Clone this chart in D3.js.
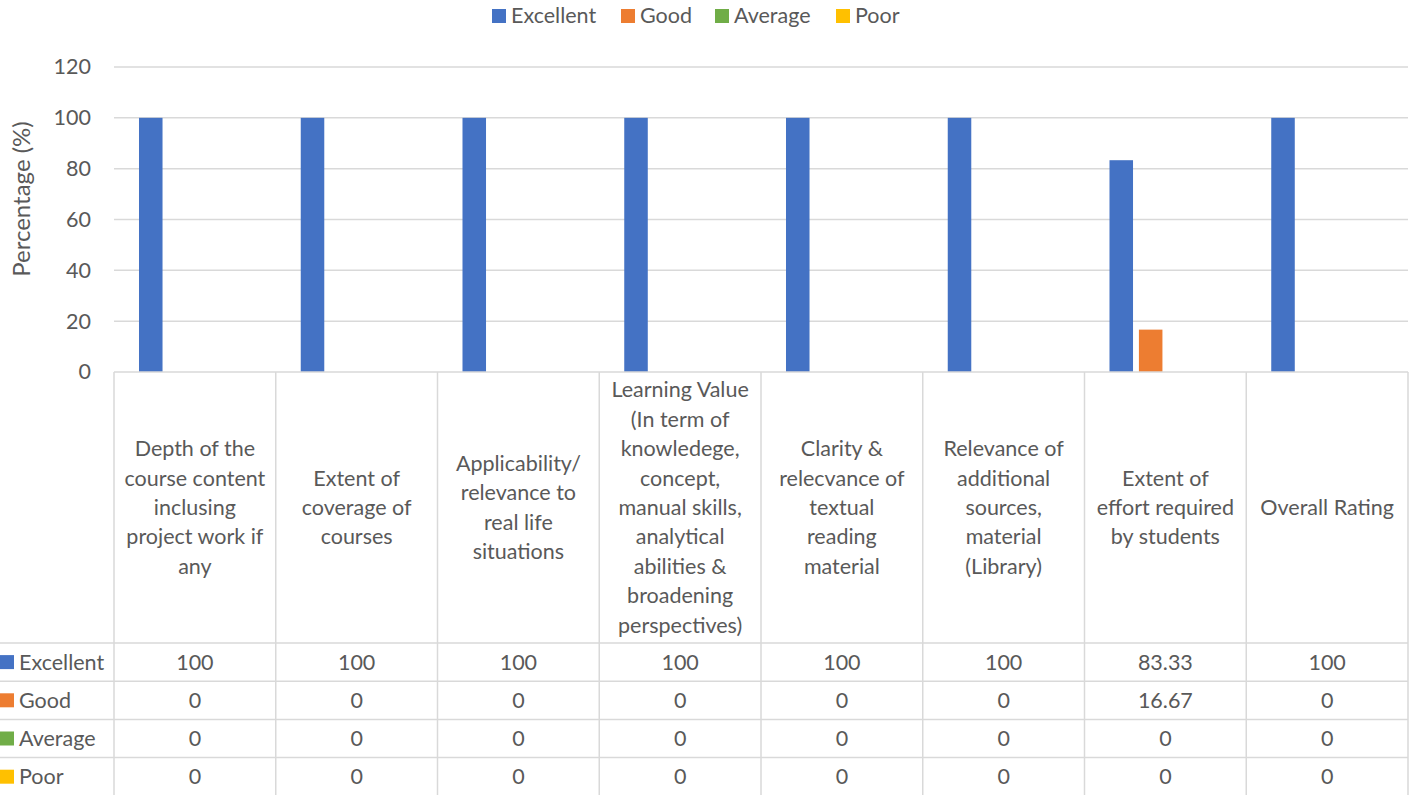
<!DOCTYPE html>
<html><head><meta charset="utf-8">
<script src="https://cdn.jsdelivr.net/npm/d3@7"></script>
<style>
html,body{margin:0;padding:0;background:#fff;}
svg{display:block;font-family:Lato,"Open Sans",sans-serif;}
</style></head>
<body>
<svg id="c" width="1416" height="795"></svg>
<script>
const categories = [
  "Depth of the course content inclusing project work if any",
  "Extent of coverage of courses",
  "Applicability/ relevance to real life situations",
  "Learning Value (In term of knowledege, concept, manual skills, analytical abilities & broadening perspectives)",
  "Clarity & relecvance of textual reading material",
  "Relevance of additional sources, material (Library)",
  "Extent of effort required by students",
  "Overall Rating"
];
const categoryLines = [
  ["Depth of the","course content","inclusing","project work if","any"],
  ["Extent of","coverage of","courses"],
  ["Applicability/","relevance to","real life","situations"],
  ["Learning Value","(In term of","knowledege,","concept,","manual skills,","analytical","abilities &","broadening","perspectives)"],
  ["Clarity &","relecvance of","textual","reading","material"],
  ["Relevance of","additional","sources,","material","(Library)"],
  ["Extent of","effort required","by students"],
  ["Overall Rating"]
];
const seriesNames = ["Excellent","Good","Average","Poor"];
const excellent = [100,100,100,100,100,100,83.33,100];
const good = [0,0,0,0,0,0,16.67,0];
const average = [0,0,0,0,0,0,0,0];
const poor = [0,0,0,0,0,0,0,0];
const seriesValues = [excellent, good, average, poor];
const colors = ["#4472C4","#ED7D31","#70AD47","#FFC000"];
const yTicks = [0,20,40,60,80,100,120];

(function(){
const svg = d3.select("#c");
const pLeft = 114, pRight = 1408, pTop = 67, pBottom = 372;
const rowTop = 643, rowH = 38.2;
const textColor = "#595959", gridColor = "#d9d9d9";
const fs = "21.5px";

const x0 = d3.scaleBand().domain(d3.range(categories.length)).range([pLeft, pRight]).padding(0);
const x1 = d3.scaleBand().domain(d3.range(seriesNames.length)).range([0, x0.bandwidth()]).paddingInner(0.2).paddingOuter(0.85);
const y = d3.scaleLinear().domain([0,120]).range([pBottom, pTop]);

// gridlines
svg.append("g").selectAll("line").data(yTicks.filter(d=>d>0)).join("line")
  .attr("x1", pLeft).attr("x2", pRight).attr("y1", d=>y(d)).attr("y2", d=>y(d))
  .attr("stroke", gridColor).attr("stroke-width", 1.5);

// y axis labels
const yAxis = d3.axisLeft(y).tickValues(yTicks).tickSize(0).tickPadding(23);
const ga = svg.append("g").attr("transform", `translate(${pLeft},0)`).call(yAxis);
ga.select(".domain").remove();
ga.selectAll("text").attr("fill", textColor).style("font-size",fs).style("font-family","Lato,'Open Sans',sans-serif");

// y title
svg.append("text").attr("transform","translate(22,199) rotate(-90)").attr("text-anchor","middle")
  .attr("dy","0.35em").attr("fill", textColor).style("font-size","24px").text("Percentage (%)");

// bars
const gb = svg.append("g");
seriesValues.forEach((vals, si) => {
  gb.selectAll(null).data(vals).join("rect")
    .attr("x", (d,i)=>x0(i)+x1(si)).attr("width", x1.bandwidth())
    .attr("y", d=>y(d)).attr("height", d=>y(0)-y(d))
    .attr("fill", colors[si]);
});

// table lines
const tl = svg.append("g").attr("stroke", gridColor).attr("stroke-width", 1.5);
tl.append("line").attr("x1", pLeft).attr("x2", pRight).attr("y1", pBottom).attr("y2", pBottom);
const bounds = d3.range(categories.length+1).map(i => i < categories.length ? x0(i) : pRight);
tl.selectAll(".v").data(bounds).join("line").attr("class","v")
  .attr("x1", d=>d).attr("x2", d=>d).attr("y1", pBottom).attr("y2", 795);
tl.selectAll(".h").data(d3.range(seriesNames.length+1)).join("line").attr("class","h")
  .attr("x1", 0).attr("x2", pRight).attr("y1", d=>rowTop + d*rowH).attr("y2", d=>rowTop + d*rowH);

// category labels
const lh = 29.4;
const gc = svg.append("g").attr("fill", textColor).style("font-size",fs).attr("text-anchor","middle");
categoryLines.forEach((lines, i) => {
  const cx = x0(i) + x0.bandwidth()/2;
  const cy = (pBottom + rowTop)/2;
  const t = gc.append("text").attr("x", cx);
  lines.forEach((ln, k) => {
    t.append("tspan").attr("x", cx).attr("y", cy + (k - (lines.length-1)/2)*lh).attr("dy","0.35em").text(ln);
  });
});

// table rows
const gr = svg.append("g").style("font-size",fs).attr("fill", textColor);
seriesNames.forEach((name, si) => {
  const cy = rowTop + si*rowH + rowH/2;
  gr.append("rect").attr("x",0).attr("y",cy-7).attr("width",14).attr("height",14).attr("fill",colors[si]);
  gr.append("text").attr("x",19).attr("y",cy).attr("dy","0.35em").text(name);
  gr.selectAll(null).data(seriesValues[si]).join("text")
    .attr("x",(d,i)=>x0(i)+x0.bandwidth()/2).attr("y",cy).attr("dy","0.35em")
    .attr("text-anchor","middle").text(d=>String(d));
});

// legend
const lgX = [492, 621, 715, 836];
const lg = svg.append("g").style("font-size",fs).attr("fill", textColor);
seriesNames.forEach((name, si) => {
  lg.append("rect").attr("x", lgX[si]).attr("y", 9).attr("width", 14).attr("height", 14).attr("fill", colors[si]);
  lg.append("text").attr("x", lgX[si]+19).attr("y", 15.5).attr("dy","0.35em").text(name);
});
})();
</script>
</body></html>
